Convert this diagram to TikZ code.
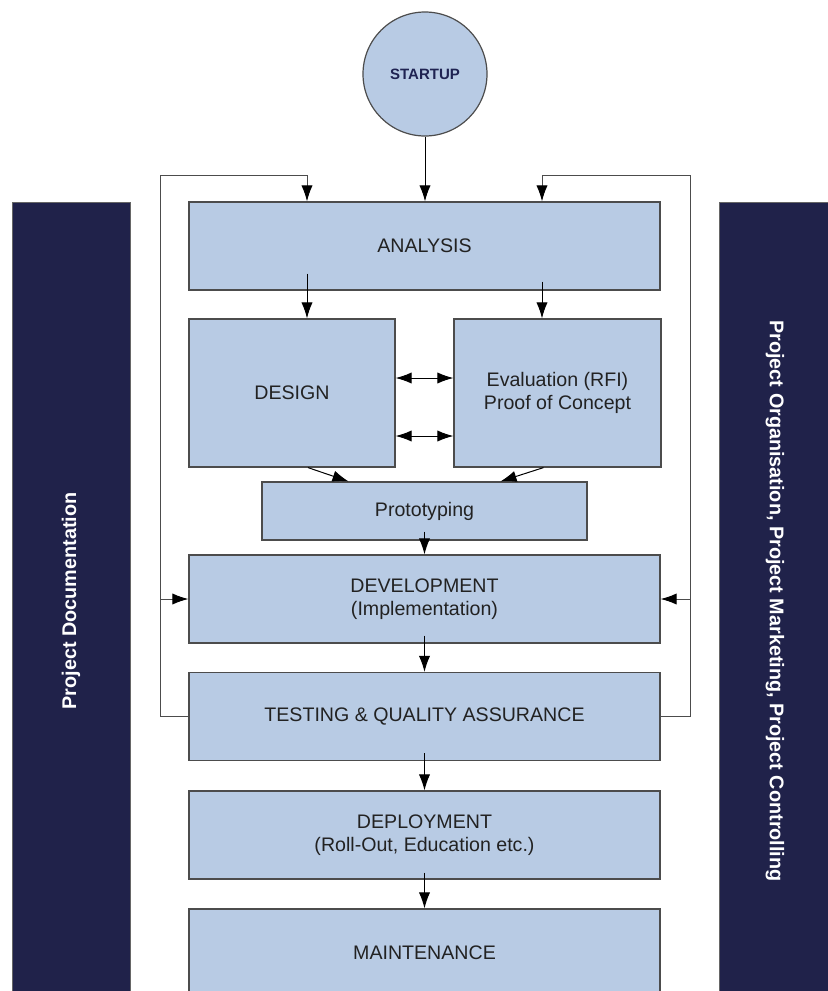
\documentclass[tikz,border=0pt]{standalone}
\usepackage{fontspec}
\setmainfont{Liberation Sans}
\usetikzlibrary{arrows.meta}
\definecolor{boxblue}{HTML}{B8CBE4}
\definecolor{barnavy}{HTML}{20224A}
\definecolor{startnavy}{HTML}{1F2352}
\definecolor{txt}{HTML}{222222}

\begin{document}
\begin{tikzpicture}[x=0.5pt,y=-0.5pt,
    phase/.style={draw=black!70,line width=0.6pt,fill=boxblue,text=txt,align=center,inner sep=0pt,
        font=\fontsize{9.8}{11.8}\selectfont},
    wide/.style={phase,minimum width=235.5pt,minimum height=44pt},
    side/.style={fill=barnavy,draw=black!60,line width=0.4pt,text=white,inner sep=0pt,
        font=\fontsize{9.9}{12}\selectfont\bfseries},
    arr/.style={line width=0.5pt,-{Latex[length=8pt,width=5.6pt,color=black]}},
    darr/.style={line width=0.5pt,{Latex[length=8pt,width=5.6pt]}-{Latex[length=8pt,width=5.6pt]}},
    fback/.style={draw=black!70,line width=0.6pt}]
    \useasboundingbox[fill=white] (0,0) rectangle (828,991);

    \node[side,rotate=90,minimum width=399pt,minimum height=59pt] (docbar) at (71,601) {Project Documentation};
    \node[side,rotate=-90,minimum width=399pt,minimum height=56pt] (orgbar) at (775,601)
        {Project Organisation, Project Marketing, Project Controlling};

    \node[circle,draw=black!70,line width=0.6pt,fill=boxblue,minimum size=62pt,inner sep=0pt,
        text=startnavy,font=\fontsize{7.5}{9}\selectfont\bfseries] (start) at (425,74) {STARTUP};

    \node[wide] (analysis) at (424.5,246) {ANALYSIS};
    \node[phase,minimum width=103pt,minimum height=74pt] (design) at (292,393) {DESIGN};
    \node[phase,minimum width=103.5pt,minimum height=74pt] (eval) at (557.5,393) {Evaluation (RFI)\\Proof of Concept};
    \node[phase,minimum width=162.5pt,minimum height=29pt] (proto) at (424.5,511) {Prototyping};
    \node[wide] (develop) at (424.5,599) {DEVELOPMENT\\(Implementation)};
    \node[wide] (test) at (424.5,716.5) {TESTING \& QUALITY ASSURANCE};
    \node[wide] (deploy) at (424.5,835) {DEPLOYMENT\\(Roll-Out, Education etc.)};
    \node[wide] (maint) at (424.5,953) {MAINTENANCE};

    \coordinate (ltop) at (160,175);
    \coordinate (rtop) at (690,175);
    \coordinate (lcol) at (307,0);
    \coordinate (rcol) at (542,0);

    \draw[fback,arr] (test.west) -| (ltop) -| (lcol |- analysis.north);
    \draw[fback,arr] (test.east) -| (rtop) -| (rcol |- analysis.north);
    \draw[fback,arr] (ltop |- develop.west) -- (develop.west);
    \draw[fback,arr] (rtop |- develop.east) -- (develop.east);

    \draw[arr] (start.south) -- (start.south |- analysis.north);
    \draw[arr] ([yshift=8.5pt]lcol |- analysis.south) -- (lcol |- design.north);
    \draw[arr] ([yshift=4.5pt]rcol |- analysis.south) -- (rcol |- eval.north);
    \draw[darr] ([yshift=7.5pt]design.east) -- ([yshift=7.5pt]eval.west);
    \draw[darr] ([yshift=-21.5pt]design.east) -- ([yshift=-21.5pt]eval.west);
    \draw[arr] ([xshift=8pt]design.south) -- ([xshift=-38pt]proto.north);
    \draw[arr] ([xshift=-7pt]eval.south) -- ([xshift=38pt]proto.north);
    \draw[arr] ([yshift=4.5pt]proto.south) -- (develop.north);
    \draw[arr] ([yshift=4pt]develop.south) -- (test.north);
    \draw[arr] ([yshift=4pt]test.south) -- (deploy.north);
    \draw[arr] ([yshift=3.5pt]deploy.south) -- (maint.north);
\end{tikzpicture}
\end{document}
